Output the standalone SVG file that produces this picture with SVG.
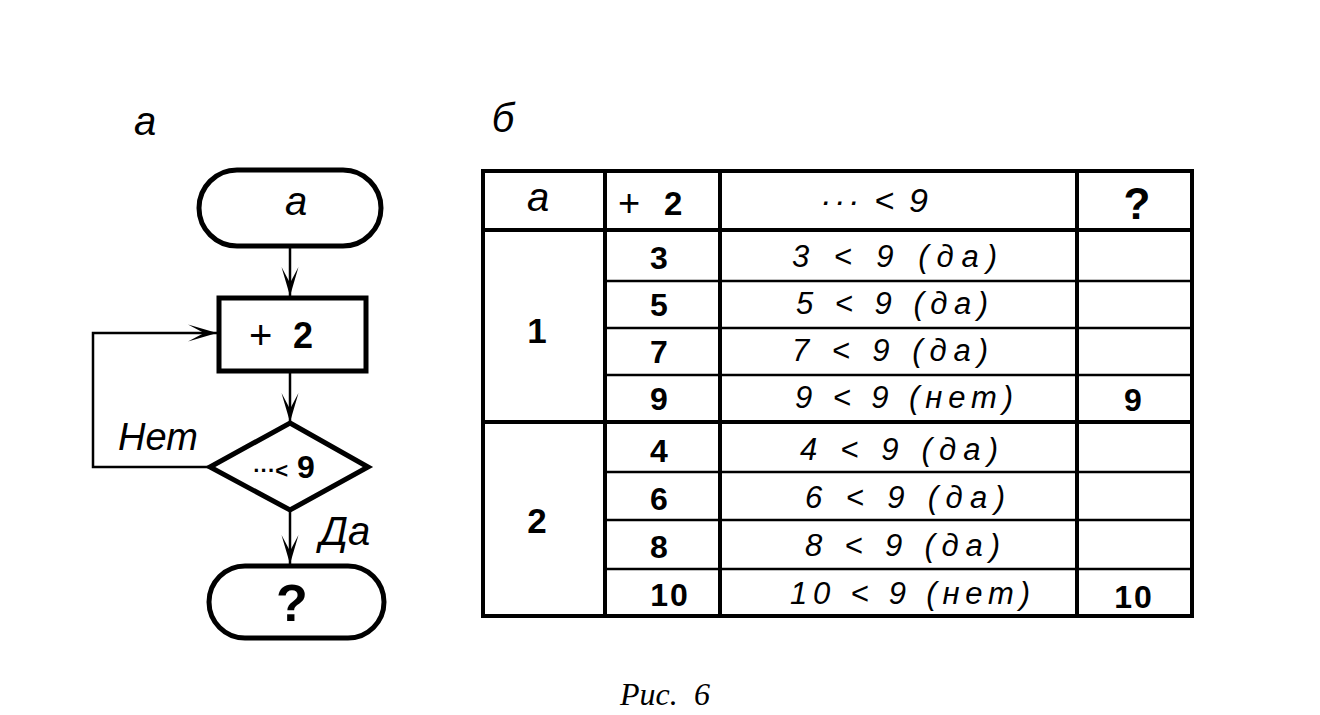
<svg xmlns="http://www.w3.org/2000/svg" width="1320" height="715" viewBox="0 0 1320 715">
<style>
.bg{fill:#fff}
.node{fill:#fff;stroke:#000;stroke-width:5}
.conn{fill:none;stroke:#000;stroke-width:2.5}
.grid{stroke:#000;stroke-width:4;fill:none}
.thin{stroke:#000;stroke-width:2.5}
.it{font-family:"Liberation Sans","DejaVu Sans",sans-serif;font-style:italic;fill:#000}
.bd{font-family:"Liberation Sans","DejaVu Sans",sans-serif;font-weight:bold;fill:#000}
.pl{font-family:"Liberation Sans","DejaVu Sans",sans-serif;font-weight:normal}
.cap{font-family:"Liberation Serif","DejaVu Serif",serif;font-style:italic;fill:#000}
</style>
<defs>
<marker id="arr" markerUnits="userSpaceOnUse" viewBox="-30 -9 32 18" markerWidth="32" markerHeight="18" refX="0" refY="0" orient="auto">
<path d="M0,0 L-29,-8.5 L-13,0 L-29,8.5 Z" fill="#000"/>
</marker>
</defs>
<rect class="bg" x="0" y="0" width="1320" height="715"/>

<text class="it" x="145" y="135" font-size="40" text-anchor="middle">а</text>
<text class="it" x="503" y="132" font-size="40" text-anchor="middle">б</text>

<g id="connectors">
<path class="conn" d="M290,248 L290,296" marker-end="url(#arr)"/>
<path class="conn" d="M290,372 L290,422" marker-end="url(#arr)"/>
<path class="conn" d="M290,510 L290,564" marker-end="url(#arr)"/>
<path class="conn" d="M210,467 L93,467 L93,333 L217,333" marker-end="url(#arr)"/>
<text class="it" x="158" y="450" font-size="38" text-anchor="middle">Нет</text>
<text class="it" x="345" y="545" font-size="40" text-anchor="middle">Да</text>
</g>

<g id="start">
<rect class="node" x="199" y="170" width="182" height="76" rx="38"/>
<text class="it" x="296" y="215" font-size="40" text-anchor="middle">а</text>
</g>
<g id="add">
<rect class="node" x="219" y="298" width="147" height="73"/>
<text class="bd" x="249" y="348" font-size="36"><tspan class="pl" font-size="40" dy="1">+</tspan><tspan x="293" dy="-1">2</tspan></text>
</g>
<g id="check">
<polygon class="node" points="290,423 368,467 290,510 210,467"/>
<text class="bd" x="284" y="478" text-anchor="middle"><tspan font-size="22">···&lt;</tspan><tspan font-size="32"> 9</tspan></text>
</g>
<g id="end">
<rect class="node" x="209" y="566" width="175" height="72" rx="36"/>
<text class="bd" x="292" y="621" font-size="52" text-anchor="middle">?</text>
</g>

<g id="table">
<rect class="grid" x="483" y="171" width="709" height="445" stroke-width="5"/>
<line class="grid" x1="605" y1="171" x2="605" y2="616"/>
<line class="grid" x1="720" y1="171" x2="720" y2="616"/>
<line class="grid" x1="1077" y1="171" x2="1077" y2="616"/>
<line class="grid" x1="483" y1="230" x2="1192" y2="230"/>
<line class="grid" x1="483" y1="422" x2="1192" y2="422"/>
<line class="thin" x1="605" y1="281" x2="1192" y2="281"/>
<line class="thin" x1="605" y1="328" x2="1192" y2="328"/>
<line class="thin" x1="605" y1="375" x2="1192" y2="375"/>
<line class="thin" x1="605" y1="472" x2="1192" y2="472"/>
<line class="thin" x1="605" y1="520" x2="1192" y2="520"/>
<line class="thin" x1="605" y1="569" x2="1192" y2="569"/>

<text class="it" x="538" y="211" font-size="40" text-anchor="middle">а</text>
<text class="bd" x="618" y="215" font-size="33"><tspan class="pl" font-size="38" dy="1">+</tspan><tspan x="664" dy="-1">2</tspan></text>
<text class="it" x="820" y="212" font-size="34" textLength="108" lengthAdjust="spacing">··· &lt; 9</text>
<text class="bd" x="1137" y="219" font-size="44" text-anchor="middle">?</text>

<text class="bd" x="537" y="343" font-size="35" text-anchor="middle">1</text>
<text class="bd" x="537" y="533" font-size="35" text-anchor="middle">2</text>

<g class="bd" font-size="32" text-anchor="middle">
<text x="659" y="269">3</text>
<text x="659" y="316">5</text>
<text x="659" y="363">7</text>
<text x="659" y="410">9</text>
<text x="659" y="462">4</text>
<text x="659" y="510">6</text>
<text x="659" y="558">8</text>
<text x="670" y="606" letter-spacing="2">10</text>
<text x="1133" y="411">9</text>
<text x="1134" y="608" letter-spacing="2">10</text>
</g>

<g class="it" font-size="31">
<text x="792" y="267" textLength="205" lengthAdjust="spacing">3 &lt; 9 (да)</text>
<text x="796" y="314" textLength="192" lengthAdjust="spacing">5 &lt; 9 (да)</text>
<text x="792" y="361" textLength="196" lengthAdjust="spacing">7 &lt; 9 (да)</text>
<text x="795" y="408" textLength="218" lengthAdjust="spacing">9 &lt; 9 (нет)</text>
<text x="800" y="460" textLength="198" lengthAdjust="spacing">4 &lt; 9 (да)</text>
<text x="805" y="508" textLength="200" lengthAdjust="spacing">6 &lt; 9 (да)</text>
<text x="805" y="556" textLength="195" lengthAdjust="spacing">8 &lt; 9 (да)</text>
<text x="790" y="604" textLength="240" lengthAdjust="spacing">10 &lt; 9 (нет)</text>
</g>
</g>

<text class="cap" x="620" y="705" font-size="32">Рис.<tspan x="694">6</tspan></text>
</svg>
